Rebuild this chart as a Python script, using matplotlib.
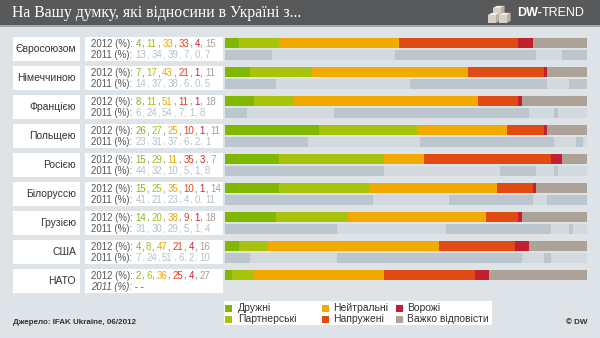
import matplotlib.pyplot as plt
from matplotlib.patches import Rectangle, Polygon
from matplotlib.font_manager import FontProperties, findfont, get_font

countries = ["Євросоюзом", "Німеччиною", "Францією", "Польщею", "Росією",
             "Білоруссю", "Грузією", "США", "НАТО"]
share_2012 = [
    [4, 11, 33, 33, 4, 15],
    [7, 17, 43, 21, 1, 11],
    [8, 11, 51, 11, 1, 18],
    [26, 27, 25, 10, 1, 11],
    [15, 29, 11, 35, 3, 7],
    [15, 25, 35, 10, 1, 14],
    [14, 20, 38, 9, 1, 18],
    [4, 8, 47, 21, 4, 16],
    [2, 6, 36, 25, 4, 27],
]
share_2011 = [
    [13, 34, 39, 7, 0, 7],
    [14, 37, 38, 6, 0, 5],
    [6, 24, 54, 7, 1, 8],
    [23, 31, 37, 6, 2, 1],
    [44, 32, 10, 5, 1, 8],
    [41, 21, 23, 4, 0, 11],
    [31, 30, 29, 5, 1, 4],
    [7, 24, 51, 6, 2, 10],
    None,  # no 2011 survey for NATO
]
categories = ["Дружні", "Партнерські", "Нейтральні", "Напружені", "Ворожі",
              "Важко відповісти"]
cat_colors = ["#80b800", "#a8c30c", "#f2aa00", "#e24a14", "#c3202f", "#aca298"]
text_colors = ["#7db51b", "#a3c010", "#f0a500", "#e0401a", "#c8202f", "#a89f96"]
gray_2011 = ["#bbc6ce", "#d2d9df"]

BG = "#dde3e6"
FONT = "Liberation Sans"
DPI = 100

fig = plt.figure(figsize=(6, 3.38), dpi=DPI)
fig.patch.set_facecolor(BG)
base = fig.add_axes([0, 0, 1, 1])
base.set_xlim(0, 600)
base.set_ylim(338, 0)
base.axis("off")


def advance(s, size, weight="normal", style="normal"):
    # pen advance of a string in pixels
    font = get_font(findfont(FontProperties(family=FONT, weight=weight, style=style)))
    font.set_size(size, DPI)
    return sum(font.load_char(ord(c)).linearHoriAdvance for c in s) / 65536


def text_runs(x, y, runs, size, style="normal"):
    # lay coloured pieces of text one after another on a line
    for s, c, w in runs:
        body = s.lstrip(" ")
        x += advance(s[:len(s) - len(body)], size, w, style)
        base.text(x, y, body, color=c, fontsize=size, family=FONT, fontweight=w,
                  fontstyle=style, ha="left", va="center")
        x += advance(body, size, w, style)


def value_line(x, y, year, values, colors, sep_color, size=6.9):
    runs = [(f"{year} (%):", "#555555", "normal")]
    for k, v in enumerate(values):
        runs.append((f" {v}", colors[k], "normal"))
        if k < len(values) - 1:
            runs.append((",", sep_color, "normal"))
    text_runs(x, y, runs, size)


def cube(x, y, s):
    d = s * 0.45
    base.add_patch(Polygon([(x, y), (x + d, y - d * 0.6), (x + s + d, y - d * 0.6), (x + s, y)],
                           closed=True, color="#efebe4", lw=0))
    base.add_patch(Rectangle((x, y), s, s, color="#d6d0c5", lw=0))
    base.add_patch(Polygon([(x + s, y), (x + s + d, y - d * 0.6), (x + s + d, y + s - d * 0.6), (x + s, y + s)],
                           closed=True, color="#b7b0a4", lw=0))


# header
base.add_patch(Rectangle((0, 0), 600, 25, color="#58595b", lw=0))
base.add_patch(Rectangle((0, 25), 600, 2, color="#a3a5a7", lw=0))
base.text(12, 13, "На Вашу думку, які відносини в Україні з...", color="white",
          fontsize=11.3, family="Liberation Serif", ha="left", va="center")
cube(493, 8, 8)
cube(488, 15, 8)
cube(499, 15, 8)
text_runs(517, 13, [("DW-", "white", "bold"), ("TREND", "white", "normal")], 9)

# bar panel in percent units
bars = fig.add_axes([225 / 600, 0, 362 / 600, 1])
bars.set_xlim(0, 100)
bars.set_ylim(338, 0)
bars.axis("off")

ROW0, PITCH = 37, 29
for i, name in enumerate(countries):
    top = ROW0 + PITCH * i
    base.add_patch(Rectangle((13, top), 67, 24, color="white", lw=0))
    base.add_patch(Rectangle((85, top), 138, 24, color="white", lw=0))
    base.text(76, top + 12, name, fontsize=7.5, family=FONT, color="#333333",
              ha="right", va="center")

    value_line(91, top + 7, 2012, share_2012[i], text_colors, "#666666")
    left = 0
    for k, v in enumerate(share_2012[i]):
        bars.barh(top + 6, v, left=left, height=10, color=cat_colors[k], lw=0)
        left += v

    if share_2011[i] is None:
        text_runs(91, top + 18, [("2011 (%): - -", "#555555", "normal")], 6.9,
                  style="italic")
        continue
    value_line(91, top + 18, 2011, share_2011[i], ["#b4c0ca"] * 6, "#b4c0ca")

    # 2011 bar: alternating greys over the non-empty segments
    left, shade = 0, 0
    for v in share_2011[i]:
        if v == 0:
            continue
        bars.barh(top + 18, v, left=left, height=10, color=gray_2011[shade % 2], lw=0)
        left += v
        shade += 1

# legend
base.add_patch(Rectangle((224, 301), 268, 24, color="white", lw=0))
legend_x = [(225, 238), (322, 333), (396, 407)]
for k, label in enumerate(categories):
    sx, tx = legend_x[k // 2]
    y = 308 + 11 * (k % 2)
    base.add_patch(Rectangle((sx, y - 3.5), 7, 7, color=cat_colors[k], lw=0))
    base.text(tx, y, label, fontsize=7.5, family=FONT, color="#333333",
              ha="left", va="center")

# footer
base.text(13, 322, "Джерело: IFAK Ukraine, 06/2012", fontsize=5.8, family=FONT,
          fontweight="bold", color="#333333", ha="left", va="center")
base.text(587, 322, "© DW", fontsize=5.8, family=FONT, fontweight="bold",
          color="#333333", ha="right", va="center")

fig.savefig("out.png", dpi=DPI, facecolor=BG)
